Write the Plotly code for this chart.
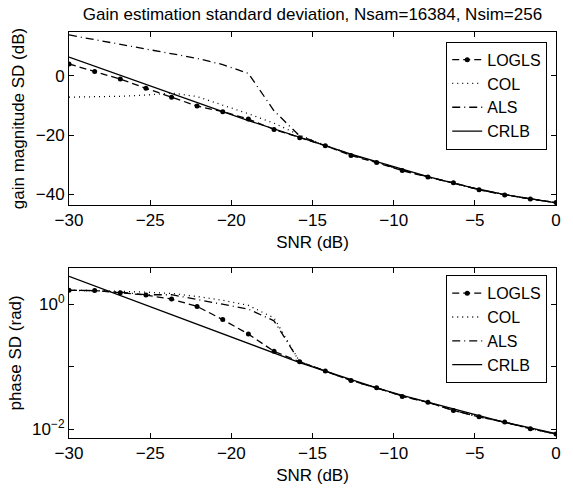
import plotly.graph_objects as go

# SNR grid (dB)
snr = [-30.0, -28.42, -26.84, -25.26, -23.68, -22.11, -20.53, -18.95, -17.37, -15.79,
       -14.21, -12.63, -11.05, -9.47, -7.89, -6.32, -4.74, -3.16, -1.58, 0.0]

# Gain magnitude SD (dB)
gain_logls = [4.0, 1.5, -1.1, -4.2, -7.2, -10.2, -12.1, -14.6, -18.1, -20.9,
              -23.6, -26.9, -29.3, -32.0, -34.2, -36.1, -38.5, -40.2, -41.6, -42.8]
gain_col = [-7.2, -7.1, -6.9, -6.5, -5.8, -7.0, -9.8, -12.8, -16.0, -20.0,
            -23.5, -26.6, -29.1, -31.8, -34.1, -36.2, -38.4, -40.1, -41.6, -42.8]
gain_als = [13.8, 12.2, 10.6, 9.0, 7.5, 5.9, 3.8, 0.8, -11.8, -20.3,
            -23.5, -26.6, -29.2, -31.8, -34.1, -36.2, -38.4, -40.1, -41.6, -42.8]
gain_crlb = [6.3, 3.2, 0.1, -3.0, -6.1, -9.1, -12.1, -15.1, -18.0, -20.8,
             -23.6, -26.4, -29.0, -31.6, -34.0, -36.2, -38.3, -40.1, -41.6, -42.9]

# Phase SD (rad)
phase_logls = [1.66, 1.64, 1.52, 1.39, 1.20, 0.916, 0.565, 0.331, 0.176, 0.120,
               0.0851, 0.0600, 0.0459, 0.0335, 0.0269, 0.0200, 0.0158, 0.0130, 0.0102, 0.0084]
phase_col = [1.66, 1.64, 1.60, 1.55, 1.48, 1.32, 1.15, 0.955, 0.60, 0.120,
             0.0851, 0.0600, 0.0457, 0.0339, 0.0269, 0.0200, 0.0158, 0.0129, 0.0102, 0.0084]
phase_als = [1.66, 1.64, 1.55, 1.41, 1.41, 1.19, 1.00, 0.83, 0.54, 0.120,
             0.0851, 0.0600, 0.0457, 0.0339, 0.0269, 0.0200, 0.0158, 0.0129, 0.0102, 0.0084]
phase_crlb = [2.77, 1.945, 1.368, 0.962, 0.676, 0.475, 0.334, 0.234, 0.165, 0.116,
              0.0851, 0.0617, 0.0457, 0.0347, 0.0269, 0.0209, 0.0162, 0.0129, 0.0105, 0.0085]

x_ticks = [-30, -25, -20, -15, -10, -5, 0]
gain_ticks = [-40, -20, 0]
phase_tickvals = [0.01, 0.1, 1]
phase_ticktext = ["10<sup>\u22122</sup>", "", "10<sup>0</sup>"]

names = ["LOGLS", "COL", "ALS", "CRLB"]
dashes = ["7px,4px", "1px,4px", "8px,4px,1px,4px", "solid"]
modes = ["lines+markers", "lines", "lines", "lines"]

FONT = "Liberation Sans, Arial, sans-serif"
fig = go.Figure()

for i, (name, ys) in enumerate(zip(names, [gain_logls, gain_col, gain_als, gain_crlb])):
    fig.add_trace(go.Scatter(
        x=snr, y=ys, name=name, mode=modes[i],
        line=dict(color="black", width=1.3, dash=dashes[i]),
        marker=dict(color="black", size=5),
        xaxis="x", yaxis="y", legend="legend"))

for i, (name, ys) in enumerate(zip(names, [phase_logls, phase_col, phase_als, phase_crlb])):
    fig.add_trace(go.Scatter(
        x=snr, y=ys, name=name, mode=modes[i],
        line=dict(color="black", width=1.3, dash=dashes[i]),
        marker=dict(color="black", size=5),
        xaxis="x2", yaxis="y2", legend="legend2"))

axis_common = dict(showline=True, linecolor="black", linewidth=1, mirror="ticks",
                   ticks="inside", ticklen=5, tickcolor="black", showgrid=False,
                   zeroline=False, tickfont=dict(family=FONT, size=17, color="black"))

legend_common = dict(xanchor="right", yanchor="top",
                     bgcolor="white", bordercolor="black", borderwidth=1,
                     font=dict(family=FONT, size=16, color="black"),
                     tracegroupgap=0, itemwidth=30)

fig.update_layout(
    width=573, height=493,
    margin=dict(l=69, r=16, t=32, b=50),
    paper_bgcolor="white", plot_bgcolor="white",
    font=dict(family=FONT, size=17, color="black"),
    title=dict(text="Gain estimation standard deviation, Nsam=16384, Nsim=256",
               x=0.5, xref="paper", xanchor="center",
               y=1 - 14 / 493, yref="container", yanchor="middle",
               font=dict(family=FONT, size=17, color="black")),
    xaxis=dict(domain=[0, 1], range=[-30, 0], tickvals=x_ticks, anchor="y",
               title=dict(text="SNR (dB)", standoff=6, font=dict(size=17)), **axis_common),
    yaxis=dict(domain=[0.574, 1], range=[-43.6, 14.8], tickvals=gain_ticks, anchor="x",
               title=dict(text="gain magnitude SD (dB)", standoff=6, font=dict(size=17)),
               **axis_common),
    xaxis2=dict(domain=[0, 1], range=[-30, 0], tickvals=x_ticks, anchor="y2",
                title=dict(text="SNR (dB)", standoff=6, font=dict(size=17)), **axis_common),
    yaxis2=dict(domain=[0, 0.419], type="log", range=[-2.14, 0.578],
                tickvals=phase_tickvals, ticktext=phase_ticktext, anchor="x2",
                title=dict(text="phase SD (rad)", standoff=6, font=dict(size=17)),
                **axis_common),
    legend=dict(x=0.982, y=0.976, **legend_common),
    legend2=dict(x=0.982, y=0.4007, **legend_common),
    showlegend=True,
)

fig.write_html("out.html", config={"displayModeBar": False},
               post_script="document.body.style.margin='0px';")
